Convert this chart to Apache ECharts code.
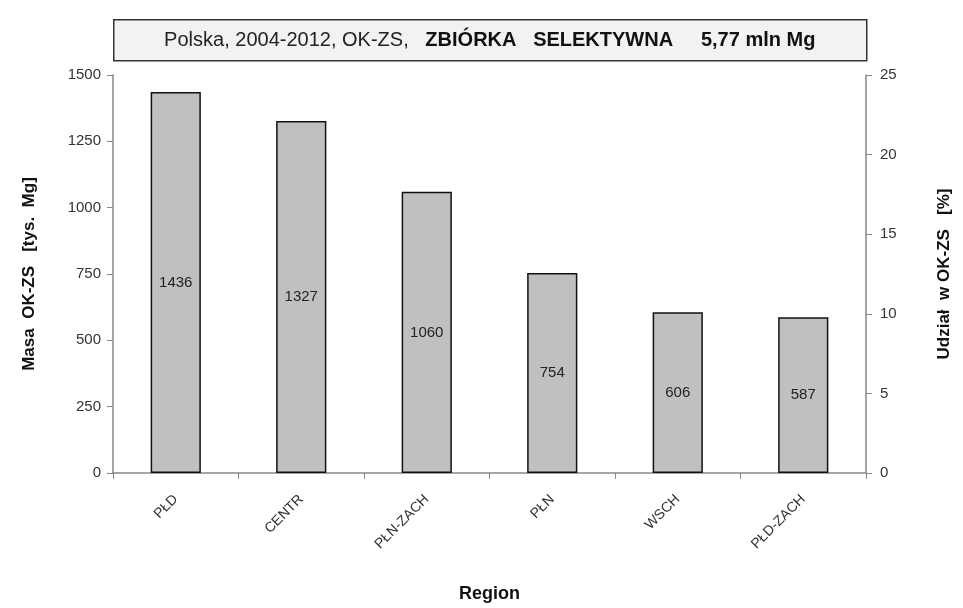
<!DOCTYPE html>
<html>
<head>
<meta charset="utf-8">
<script src="https://cdn.jsdelivr.net/npm/echarts@6/dist/echarts.min.js"></script>
<style>html,body{margin:0;padding:0;background:#fff}#c{width:963px;height:608px}</style>
</head>
<body>
<div id="c"></div>
<script>
const categories = ['PŁD', 'CENTR', 'PŁN-ZACH', 'PŁN', 'WSCH', 'PŁD-ZACH'];
const masa = [1436, 1327, 1060, 754, 606, 587];
const leftTicks = [0, 1500, 250];
const rightTicks = [0, 25, 5];

const chart = echarts.init(document.getElementById('c'));
const font = 'Arial, "Liberation Sans", sans-serif';
chart.setOption({
  animation: false,
  backgroundColor: '#fff',
  graphic: [{
    type: 'group',
    left: 113, top: 19,
    children: [
      { type: 'rect', shape: { x: 0, y: 0, width: 753, height: 41 },
        style: { fill: '#f2f2f2', stroke: '#333', lineWidth: 1.5 } },
      { type: 'text', x: 376, y: 21,
        style: {
          text: '{n|Polska, 2004-2012, OK-ZS,   }{b|ZBIÓRKA   SELEKTYWNA     5,77 mln Mg}',
          align: 'center', verticalAlign: 'middle',
          rich: {
            n: { fontFamily: font, fontSize: 20, fill: '#222' },
            b: { fontFamily: font, fontSize: 20, fontWeight: 'bold', fill: '#111' }
          }
        } }
    ]
  }],
  grid: { left: 113, right: 97, top: 75, bottom: 135 },
  xAxis: {
    type: 'category', data: categories,
    name: 'Region', nameLocation: 'middle', nameGap: 112,
    nameTextStyle: { fontFamily: font, fontSize: 18, fontWeight: 'bold', color: '#111' },
    axisLine: { lineStyle: { color: '#888', width: 1.5 } },
    axisTick: { show: true, alignWithLabel: false, length: 6, lineStyle: { color: '#888' } },
    axisLabel: { rotate: 45, fontFamily: font, fontSize: 14, color: '#333', margin: 24 }
  },
  yAxis: [{
    type: 'value', min: leftTicks[0], max: leftTicks[1], interval: leftTicks[2],
    name: 'Masa  OK-ZS   [tys.  Mg]', nameLocation: 'middle', nameGap: 75,
    nameTextStyle: { fontFamily: font, fontSize: 17, fontWeight: 'bold', color: '#111' },
    axisLine: { show: true, lineStyle: { color: '#888', width: 1.5 } },
    axisTick: { show: true, length: 6, lineStyle: { color: '#888' } },
    axisLabel: { fontFamily: font, fontSize: 15, color: '#333', margin: 12, formatter: v => String(v) },
    splitLine: { show: false }
  }, {
    type: 'value', position: 'right', min: rightTicks[0], max: rightTicks[1], interval: rightTicks[2],
    name: 'Udział  w OK-ZS   [%]', nameLocation: 'middle', nameGap: 70, nameRotate: 90,
    nameTextStyle: { fontFamily: font, fontSize: 17, fontWeight: 'bold', color: '#111' },
    axisLine: { show: true, lineStyle: { color: '#888', width: 1.5 } },
    axisTick: { show: true, length: 6, lineStyle: { color: '#888' } },
    axisLabel: { fontFamily: font, fontSize: 15, color: '#333', margin: 14 },
    splitLine: { show: false }
  }],
  series: [{
    type: 'bar', data: masa, yAxisIndex: 0, barWidth: '40%',
    itemStyle: { color: '#c0c0c0', borderColor: '#111', borderWidth: 1.5 },
    label: { show: true, position: 'inside', fontFamily: font, fontSize: 15, color: '#222' }
  }]
});
</script>
</body>
</html>
